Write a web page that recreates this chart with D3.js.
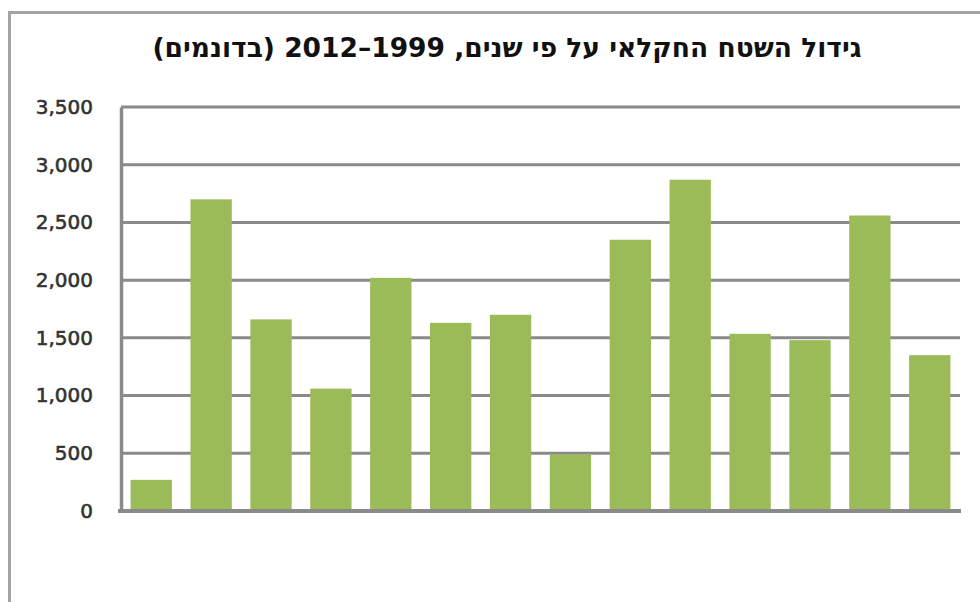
<!DOCTYPE html>
<html>
<head>
<meta charset="utf-8">
<script src="https://cdn.jsdelivr.net/npm/d3@7"></script>
<style>
  html, body { margin: 0; padding: 0; background: #fff; }
  svg { display: block; }
</style>
</head>
<body>
<svg id="chart" width="980" height="602"></svg>
<script>
const title = "גידול השטח החקלאי על פי שנים, 1999–2012 (בדונמים)";
const years = ["1999","2000","2001","2002","2003","2004","2005","2006","2007","2008","2009","2010","2011","2012"];
const values = [270, 2700, 1660, 1060, 2020, 1630, 1700, 490, 2350, 2870, 1535, 1480, 2560, 1350];
const yTicks = [0, 500, 1000, 1500, 2000, 2500, 3000, 3500];

const svg = d3.select("#chart");

// outer frame (top and left edges)
svg.append("path")
  .attr("d", "M9.5,602 L9.5,12.5 L980,12.5")
  .attr("fill", "none")
  .attr("stroke", "#a3a3a3")
  .attr("stroke-width", 3);

const x = d3.scaleBand().domain(years).range([121, 960]).paddingInner(0.31).paddingOuter(0.16);
const y = d3.scaleLinear().domain([0, 3500]).range([511, 107]);

// gridlines
svg.append("g")
  .selectAll("line")
  .data(yTicks.filter(d => d > 0))
  .join("line")
  .attr("x1", 121).attr("x2", 960)
  .attr("y1", d => y(d)).attr("y2", d => y(d))
  .attr("stroke", "#8a8a8a")
  .attr("stroke-width", 3);

// bars
svg.append("g")
  .selectAll("rect")
  .data(values)
  .join("rect")
  .attr("x", (d, i) => x(years[i]))
  .attr("width", x.bandwidth())
  .attr("y", d => y(d))
  .attr("height", d => y(0) - y(d))
  .attr("fill", "#9bbb59");

// y axis
const yAxis = d3.axisLeft(y).tickValues(yTicks).tickSize(0).tickPadding(28)
  .tickFormat(d3.format(","));
const ga = svg.append("g").attr("transform", "translate(121,0)").call(yAxis);
ga.select(".domain").attr("stroke", "#8a8a8a").attr("stroke-width", 3.5);
ga.selectAll("text")
  .attr("font-family", "DejaVu Sans, Verdana, sans-serif")
  .attr("font-size", 20)
  .attr("fill", "#333")
  .attr("stroke", "#333")
  .attr("stroke-width", 0.6);

// baseline
svg.append("line")
  .attr("x1", 118).attr("x2", 961)
  .attr("y1", y(0)).attr("y2", y(0))
  .attr("stroke", "#8a8a8a")
  .attr("stroke-width", 4);

// title
svg.append("text")
  .attr("x", 507).attr("y", 57)
  .attr("text-anchor", "middle")
  .attr("direction", "rtl")
  .attr("font-family", "DejaVu Sans, sans-serif")
  .attr("font-weight", "bold")
  .attr("font-size", 26.5)
  .attr("fill", "#111")
  .text(title);
</script>
</body>
</html>
